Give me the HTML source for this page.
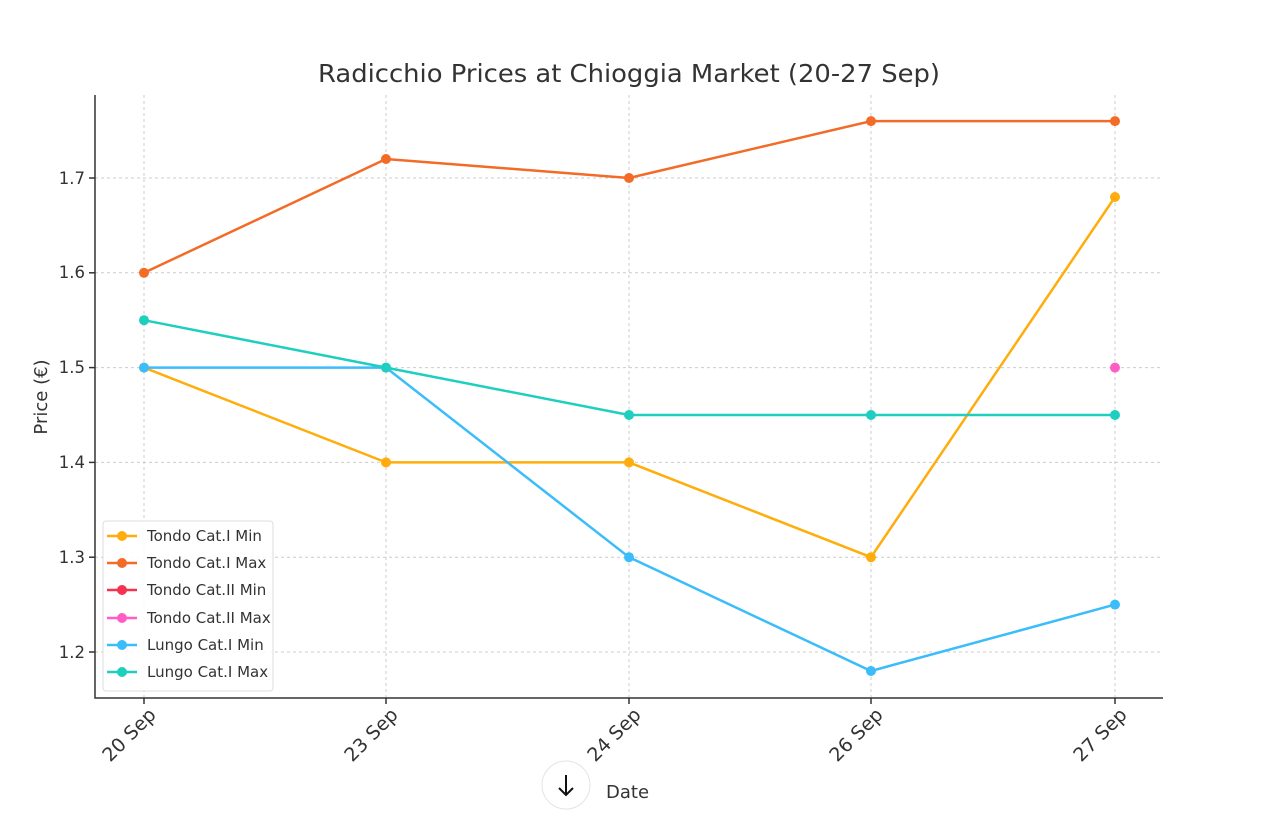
<!DOCTYPE html>
<html><head><meta charset="utf-8"><style>body{margin:0;background:#fff}svg{display:block}text{font-family:"DejaVu Sans","Liberation Sans",sans-serif;fill:#333}</style></head>
<body>
<svg width="1280" height="813" viewBox="0 0 1280 813">
<text x="318" y="82" font-size="25" textLength="622" lengthAdjust="spacingAndGlyphs">Radicchio Prices at Chioggia Market (20-27 Sep)</text>
<g stroke="#ccc" stroke-width="1" stroke-dasharray="3,3">
<line x1="144" y1="95" x2="144" y2="698"/><line x1="386" y1="95" x2="386" y2="698"/><line x1="629" y1="95" x2="629" y2="698"/><line x1="871" y1="95" x2="871" y2="698"/><line x1="1115" y1="95" x2="1115" y2="698"/>
<line x1="95" y1="652" x2="1163" y2="652"/><line x1="95" y1="557.2" x2="1163" y2="557.2"/><line x1="95" y1="462.4" x2="1163" y2="462.4"/><line x1="95" y1="367.6" x2="1163" y2="367.6"/><line x1="95" y1="272.8" x2="1163" y2="272.8"/><line x1="95" y1="178" x2="1163" y2="178"/>
</g>
<g stroke="#333" stroke-width="1.5" fill="none">
<polyline points="95,95 95,698 1163,698"/>
<line x1="144" y1="698" x2="144" y2="704"/><line x1="386" y1="698" x2="386" y2="704"/><line x1="629" y1="698" x2="629" y2="704"/><line x1="871" y1="698" x2="871" y2="704"/><line x1="1115" y1="698" x2="1115" y2="704"/>
<line x1="89" y1="652" x2="95" y2="652"/><line x1="89" y1="557.2" x2="95" y2="557.2"/><line x1="89" y1="462.4" x2="95" y2="462.4"/><line x1="89" y1="367.6" x2="95" y2="367.6"/><line x1="89" y1="272.8" x2="95" y2="272.8"/><line x1="89" y1="178" x2="95" y2="178"/>
</g>
<g font-size="16.5" text-anchor="end">
<text x="85" y="658">1.2</text><text x="85" y="563">1.3</text><text x="85" y="468">1.4</text><text x="85" y="373">1.5</text><text x="85" y="278">1.6</text><text x="85" y="184">1.7</text>
</g>
<text transform="translate(47,397) rotate(-90)" font-size="18" text-anchor="middle">Price (€)</text>
<g font-size="19" text-anchor="end">
<text transform="translate(157,716) rotate(-45)">20 Sep</text>
<text transform="translate(399,716) rotate(-45)">23 Sep</text>
<text transform="translate(642,716) rotate(-45)">24 Sep</text>
<text transform="translate(884,716) rotate(-45)">26 Sep</text>
<text transform="translate(1128,716) rotate(-45)">27 Sep</text>
</g>
<text x="606" y="798" font-size="18">Date</text>
<circle cx="566" cy="785" r="24" fill="#fff" stroke="#e4e4e4"/>
<path d="M566 775 V795 M559 788 L566 795 L573 788" stroke="#111" stroke-width="2" fill="none"/>
<g stroke-width="2.5" fill="none">
<polyline stroke="#ffad0d" points="144,367.6 386,462.4 629,462.4 871,557.2 1115,197"/>
<polyline stroke="#f26b27" points="144,272.8 386,159 629,178 871,121.1 1115,121.1"/>
<polyline stroke="#3bbcfb" points="144,367.6 386,367.6 629,557.2 871,671 1115,604.6"/>
<polyline stroke="#1ecfc0" points="144,320.2 386,367.6 629,415 871,415 1115,415"/>
</g>
<g fill="#ffad0d"><circle cx="144" cy="367.6" r="5"/><circle cx="386" cy="462.4" r="5"/><circle cx="629" cy="462.4" r="5"/><circle cx="871" cy="557.2" r="5"/><circle cx="1115" cy="197" r="5"/></g>
<g fill="#f26b27"><circle cx="144" cy="272.8" r="5"/><circle cx="386" cy="159" r="5"/><circle cx="629" cy="178" r="5"/><circle cx="871" cy="121.1" r="5"/><circle cx="1115" cy="121.1" r="5"/></g>
<g fill="#3bbcfb"><circle cx="144" cy="367.6" r="5"/><circle cx="386" cy="367.6" r="5"/><circle cx="629" cy="557.2" r="5"/><circle cx="871" cy="671" r="5"/><circle cx="1115" cy="604.6" r="5"/></g>
<g fill="#1ecfc0"><circle cx="144" cy="320.2" r="5"/><circle cx="386" cy="367.6" r="5"/><circle cx="629" cy="415" r="5"/><circle cx="871" cy="415" r="5"/><circle cx="1115" cy="415" r="5"/></g>
<circle cx="1115" cy="367.6" r="5" fill="#ff5cc4"/>
<rect x="103" y="521" width="170" height="170" rx="3" fill="#fff" fill-opacity="0.85" stroke="#ddd"/>
<g stroke-width="2.5">
<line x1="107" y1="536" x2="137" y2="536" stroke="#ffad0d"/><circle cx="122" cy="536" r="5" fill="#ffad0d"/>
<line x1="107" y1="563" x2="137" y2="563" stroke="#f26b27"/><circle cx="122" cy="563" r="5" fill="#f26b27"/>
<line x1="107" y1="590" x2="137" y2="590" stroke="#f5334f"/><circle cx="122" cy="590" r="5" fill="#f5334f"/>
<line x1="107" y1="618" x2="137" y2="618" stroke="#ff5cc4"/><circle cx="122" cy="618" r="5" fill="#ff5cc4"/>
<line x1="107" y1="645" x2="137" y2="645" stroke="#3bbcfb"/><circle cx="122" cy="645" r="5" fill="#3bbcfb"/>
<line x1="107" y1="672" x2="137" y2="672" stroke="#1ecfc0"/><circle cx="122" cy="672" r="5" fill="#1ecfc0"/>
</g>
<g font-size="15">
<text x="147" y="541">Tondo Cat.I Min</text><text x="147" y="568">Tondo Cat.I Max</text><text x="147" y="595">Tondo Cat.II Min</text><text x="147" y="623">Tondo Cat.II Max</text><text x="147" y="650">Lungo Cat.I Min</text><text x="147" y="677">Lungo Cat.I Max</text>
</g>
</svg>
</body></html>
